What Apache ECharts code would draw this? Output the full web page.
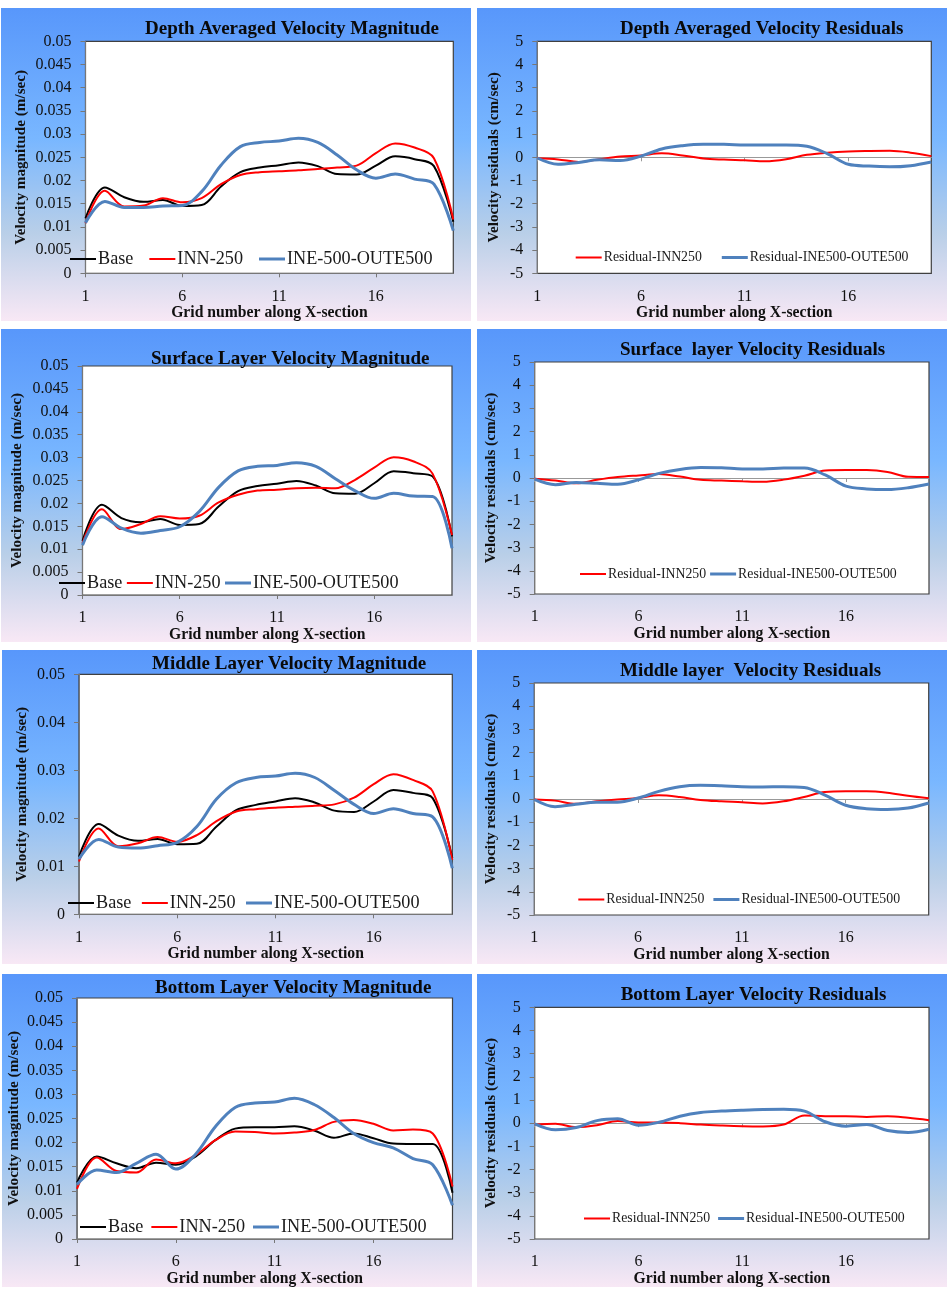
<!DOCTYPE html>
<html><head><meta charset="utf-8">
<style>html,body{margin:0;padding:0;background:#fff}#c{width:948px;height:1298px}</style>
<script src="https://cdn.jsdelivr.net/npm/echarts@6/dist/echarts.min.js"></script>
</head><body><div id="c"></div>
<script>
const gridNumbers = ['1','2','3','4','5','6','7','8','9','10','11','12','13','14','15','16','17','18','19','20'];

const baseDepth = [.01185,.0185,.0164,.0154,.0158,.0145,.0147,.0187,.0218,.0228,.0233,.0239,.0231,.0214,.0213,.0232,.0252,.0246,.0231,.0111];
const innDepth  = [.0108,.0178,.0144,.0146,.0162,.0153,.0162,.0192,.0212,.0218,.0220,.0222,.0225,.0228,.0232,.0259,.0280,.0271,.0248,.0116];
const ineDepth  = [.0109,.0155,.0142,.0142,.0145,.0146,.0176,.0233,.0273,.0282,.0285,.0291,.0282,.0255,.0223,.0205,.0214,.0203,.0192,.0092];

const baseSurface = [.0118,.0197,.0168,.0159,.0166,.0153,.0155,.0193,.0227,.0238,.0243,.0249,.0239,.0222,.0221,.0244,.0270,.0266,.0259,.0128];
const innSurface  = [.0113,.0187,.0144,.0155,.0172,.0167,.0173,.0202,.0219,.0228,.0230,.0233,.0234,.0233,.0251,.0278,.0301,.0292,.0265,.0131];
const ineSurface  = [.0109,.0171,.0146,.0135,.0141,.0149,.0182,.0235,.0271,.0281,.0283,.0289,.0281,.0254,.0228,.0211,.0222,.0216,.0215,.0102];

const baseMiddle = [.0120,.0188,.0164,.0153,.0157,.0146,.0147,.0183,.0217,.0228,.0235,.0242,.0233,.0216,.0213,.0235,.0259,.0253,.0242,.0117];
const innMiddle  = [.0110,.0179,.0142,.0148,.0161,.0151,.0165,.0194,.0214,.0219,.0222,.0224,.0226,.0229,.0243,.0271,.0292,.0280,.0256,.0113];
const ineMiddle  = [.0115,.0156,.0140,.0138,.0143,.0150,.0183,.0240,.0274,.0285,.0288,.0294,.0285,.0258,.0229,.0210,.0220,.0210,.0203,.0096];

const baseBottom = [.0117,.0171,.0157,.0147,.0158,.0154,.0171,.0205,.0229,.0232,.0232,.0234,.0225,.0210,.0219,.0209,.0198,.0197,.0197,.0096];
const innBottom  = [.0104,.0169,.0141,.0138,.0165,.0157,.0174,.0205,.0223,.0222,.0219,.0221,.0226,.0243,.0247,.0239,.0225,.0227,.0219,.0109];
const ineBottom  = [.0113,.0143,.0138,.0157,.0176,.0145,.0176,.0233,.0273,.0282,.0284,.0292,.0279,.0252,.0219,.0200,.0189,.0167,.0154,.0070];

const resInnDepth = [-.04,-.09,-.2,-.08,.03,.08,.17,.08,-.05,-.1,-.13,-.17,-.08,.11,.2,.25,.27,.28,.2,.05];
const resIneDepth = [-.03,-.3,-.22,-.11,-.14,.05,.36,.5,.56,.56,.53,.53,.53,.48,.15,-.3,-.38,-.41,-.36,-.2];

const resInnSurface = [-.03,-.11,-.23,-.08,.04,.11,.17,.06,-.08,-.11,-.14,-.16,-.07,.1,.32,.34,.34,.26,.05,.04];
const resIneSurface = [-.05,-.29,-.19,-.23,-.27,-.08,.2,.37,.45,.44,.39,.39,.43,.43,.13,-.35,-.47,-.5,-.42,-.26];

const resInnMiddle = [-.02,-.07,-.21,-.1,-.02,.04,.16,.09,-.04,-.1,-.14,-.19,-.1,.09,.3,.33,.33,.27,.14,.03];
const resIneMiddle = [-.02,-.33,-.23,-.14,-.14,.04,.33,.53,.59,.57,.53,.52,.53,.5,.17,-.27,-.42,-.45,-.39,-.17];

const resInnBottom = [-.06,-.03,-.17,-.09,.09,.03,.03,0,-.06,-.1,-.13,-.14,-.06,.33,.3,.3,.27,.3,.23,.13];
const resIneBottom = [-.03,-.29,-.19,.11,.19,-.09,.04,.3,.46,.52,.56,.59,.6,.52,.06,-.13,-.06,-.32,-.4,-.26];

const FONT = '"Liberation Serif","Times New Roman",serif';
const INK = '#111';
const RED = '#ff0000', BLUE = '#4f81bd';
const THIN_ICON = 'path://M0 0L0 0ZM0 .5H26V2.5H0ZM0 3L0 3Z';
const THICK_ICON = 'path://M0 0H26V3H0Z';

const panels = [
 {t:'Depth Averaged Velocity Magnitude', tx:145, ty:29, bg:[1,8,470,313], p:[85.5,41.3,453.3,273.3], yMax:.05, yInt:.005, yName:'Velocity magnitude (m/sec)', yGap:56.5,
  s:[['Base',baseDepth,'#000',2],['INN-250',innDepth,RED,2],['INE-500-OUTE500',ineDepth,BLUE,3]], lx:70, ly:259, gap:16},
 {t:'Depth Averaged Velocity Residuals', tx:620, ty:29, bg:[477,8,470,313], p:[537.3,41.3,931.3,273.3], yMin:-5, yMax:5, yInt:1, yName:'Velocity residuals (cm/sec)', yGap:35.5,
  s:[['Residual-INN250',resInnDepth,RED,2],['Residual-INE500-OUTE500',resIneDepth,BLUE,3]], lx:575.7, ly:257.5, gap:20},
 {t:'Surface Layer Velocity Magnitude', tx:151, ty:359, bg:[1,329,470,313], p:[82.5,366,452,595], yMax:.05, yInt:.005, yName:'Velocity magnitude (m/sec)', yGap:58,
  s:[['Base',baseSurface,'#000',2],['INN-250',innSurface,RED,2],['INE-500-OUTE500',ineSurface,BLUE,3]], lx:59, ly:583, gap:4.5},
 {t:'Surface  layer Velocity Residuals', tx:620, ty:350, bg:[477,329,470,313], p:[534.7,362,929,594], yMin:-5, yMax:5, yInt:1, yName:'Velocity residuals (cm/sec)', yGap:35.7,
  s:[['Residual-INN250',resInnSurface,RED,2],['Residual-INE500-OUTE500',resIneSurface,BLUE,3]], lx:580, ly:574, gap:4},
 {t:'Middle Layer Velocity Magnitude', tx:152, ty:664, bg:[2,650,470,314], p:[79,674.3,452.3,914.3], yMax:.05, yInt:.01, yName:'Velocity magnitude (m/sec)', yGap:49.5,
  s:[['Base',baseMiddle,'#000',2],['INN-250',innMiddle,RED,2],['INE-500-OUTE500',ineMiddle,BLUE,3]], lx:68, ly:903, gap:10.5},
 {t:'Middle layer  Velocity Residuals', tx:620, ty:671, bg:[477,650,470,314], p:[534.3,683,928.7,915], yMin:-5, yMax:5, yInt:1, yName:'Velocity residuals (cm/sec)', yGap:35.6,
  s:[['Residual-INN250',resInnMiddle,RED,2],['Residual-INE500-OUTE500',resIneMiddle,BLUE,3]], lx:578.3, ly:899.5, gap:9},
 {t:'Bottom Layer Velocity Magnitude', tx:155, ty:988, bg:[2,974,470,313], p:[77,998,452.5,1239], yMax:.05, yInt:.005, yName:'Velocity magnitude (m/sec)', yGap:55.5,
  s:[['Base',baseBottom,'#000',2],['INN-250',innBottom,RED,2],['INE-500-OUTE500',ineBottom,BLUE,3]], lx:80, ly:1227, gap:8},
 {t:'Bottom Layer Velocity Residuals', tx:620.7, ty:995, bg:[477,974,470,313], p:[534.7,1007.3,929,1239], yMin:-5, yMax:5, yInt:1, yName:'Velocity residuals (cm/sec)', yGap:36,
  s:[['Residual-INN250',resInnBottom,RED,2],['Residual-INE500-OUTE500',resIneBottom,BLUE,3]], lx:584, ly:1218.5, gap:8},
];

const option = {animation:false, backgroundColor:'#fff', textStyle:{fontFamily:FONT},
  graphic:[], title:[], legend:[], grid:[], xAxis:[], yAxis:[], series:[]};

panels.forEach((P,i)=>{
  const [x0,y0,x1,y1] = P.p, h = y1-y0;
  const isRes = P.yMin !== undefined;
  option.graphic.push({type:'rect', z:-10, silent:true,
    shape:{x:P.bg[0],y:P.bg[1],width:P.bg[2],height:P.bg[3]},
    style:{fill:{type:'linear',x:0,y:0,x2:0,y2:1,colorStops:[
      {offset:0,color:'#5897fb'},{offset:.42,color:'#79b7ff'},{offset:.72,color:'#b9cfe8'},{offset:1,color:'#f8e8f5'}]}}});
  option.title.push({text:P.t, left:P.tx, top:P.ty-10, padding:0,
    textStyle:{fontFamily:FONT,fontSize:19,fontWeight:'bold',color:'#0a0a0a',lineHeight:20}});
  option.grid.push({left:x0, top:y0, width:x1-x0, height:h, show:true, backgroundColor:'#fff',
    borderColor:'#404040', borderWidth:1.2, containLabel:false, outerBoundsMode:'none'});
  const xIndex = option.xAxis.length;
  option.xAxis.push({gridIndex:i, type:'category', boundaryGap:false, data:gridNumbers, position:'bottom',
    axisLine:{show:!isRes, onZero:false, lineStyle:{color:'#777',width:1.2}},
    axisTick:{show:!isRes, interval:4, length:4, lineStyle:{color:'#777'}},
    axisLabel:{interval:4, margin:15, fontFamily:FONT, fontSize:16, color:INK},
    name:'Grid number along X-section', nameLocation:'middle', nameGap:32,
    nameTextStyle:{fontFamily:FONT,fontSize:15.7,fontWeight:'bold',color:INK}});
  if (isRes) option.xAxis.push({gridIndex:i, type:'category', boundaryGap:false, data:gridNumbers, position:'bottom',
    axisLine:{show:true, onZero:true, lineStyle:{color:'#999',width:1.2}},
    axisTick:{show:true, interval:4, length:4, lineStyle:{color:'#999'}},
    axisLabel:{show:false}});
  option.yAxis.push({gridIndex:i, type:'value', min:isRes?P.yMin:0, max:P.yMax, interval:P.yInt,
    splitLine:{show:false},
    axisLine:{show:true,lineStyle:{color:'#777'}},
    axisTick:{show:true,length:5,lineStyle:{color:'#777'}},
    axisLabel:{margin:14,fontFamily:FONT,fontSize:16,color:INK,padding:[2,0,0,0]},
    name:P.yName, nameLocation:'middle', nameGap:P.yGap, nameRotate:90,
    nameTextStyle:{fontFamily:FONT,fontSize:15.2,fontWeight:'bold',color:INK}});
  P.s.forEach(([name,data,color,w])=>{
    option.series.push({type:'line', name, data, xAxisIndex:xIndex, yAxisIndex:i, smooth:.35,
      showSymbol:false, symbol:'none', z:3,
      lineStyle:{color,width:w}, itemStyle:{color}});
  });
  option.legend.push({left:P.lx, top:P.ly-(isRes?7:9), padding:0, orient:'horizontal',
    data:P.s.map(s=>({name:s[0], icon:s[3]>2?THICK_ICON:THIN_ICON})), itemWidth:26, itemHeight:3, itemGap:P.gap, selectedMode:false,
    textStyle:{fontFamily:FONT,fontSize:isRes?13.8:18.2,color:'#1a1a1a',padding:[0,0,0,-3]}});
});
echarts.init(document.getElementById('c'),null,{renderer:'canvas'}).setOption(option);
</script></body></html>
